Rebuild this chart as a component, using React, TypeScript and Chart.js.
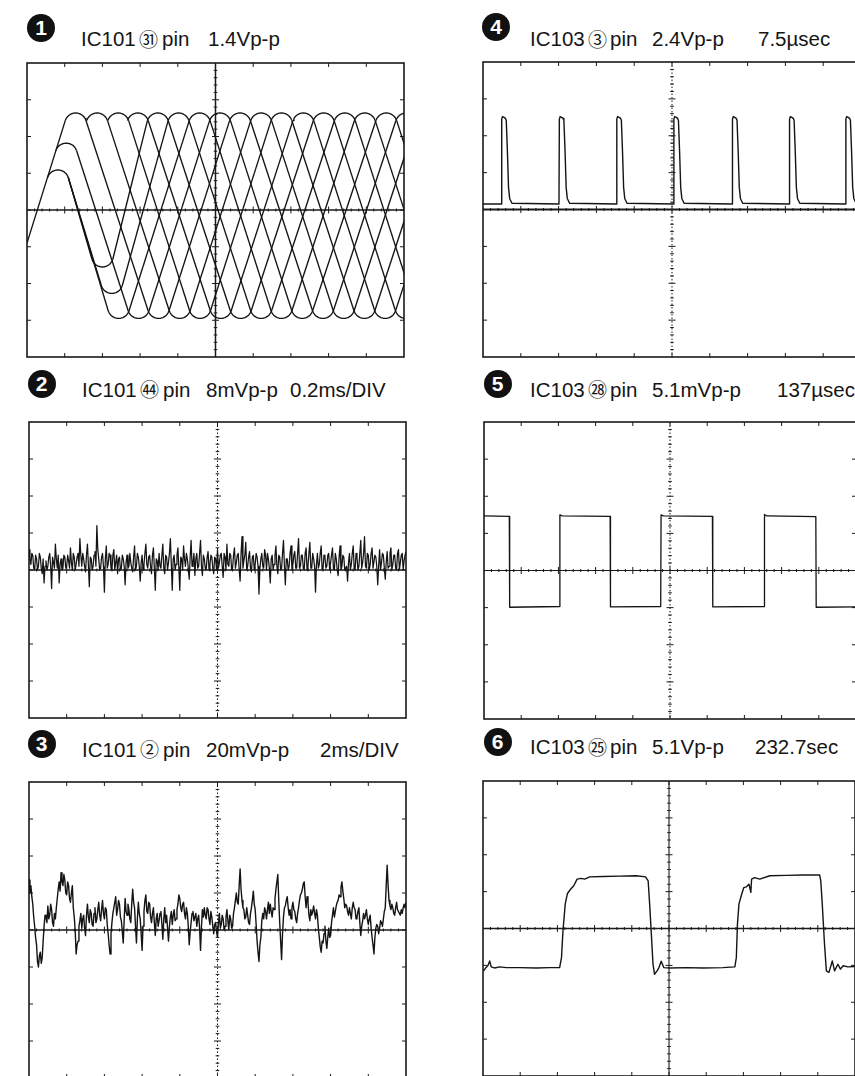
import { useEffect, useRef } from "react";
import { Chart, registerables } from "chart.js";
Chart.register(...registerables);

// ---------------- DATA ----------------
const badgeDigits = ["1", "2", "3", "4", "5", "6"];
const titleTokens = [
  ["IC101", "㉛", "pin", "1.4Vp-p"],
  ["IC101", "㊹", "pin", "8mVp-p", "0.2ms/DIV"],
  ["IC101", "②", "pin", "20mVp-p", "2ms/DIV"],
  ["IC103", "③", "pin", "2.4Vp-p", "7.5µsec"],
  ["IC103", "㉘", "pin", "5.1mVp-p", "137µsec"],
  ["IC103", "㉕", "pin", "5.1Vp-p", "232.7sec"],
];

// Panel 1 (eye pattern): turning points in DIV
const p1HumpX = [1.29, 1.86, 2.42, 2.94, 3.47, 4.02, 4.58, 5.12, 5.65, 6.21, 6.75, 7.33, 7.87, 8.43, 8.96, 9.53, 10.06, 10.6, 11.15, 11.7, 12.25];
const p1ValleyX = [2.43, 2.96, 3.49, 4.05, 4.59, 5.14, 5.67, 6.21, 6.75, 7.3, 7.85, 8.4, 8.95, 9.5, 10.05, 10.6, 11.15, 11.7];
const p1Top = 2.64;
const p1Bottom = -2.95;
const p1StartY = -0.9;
const p1SubPeakX = [0.82, 1.04];
const p1SubPeakY = [1.09, 1.82];
const p1SubValleyX = [2.0, 2.25];
const p1SubValleyY = [-1.55, -2.27];
const p1SubValleyRiseTo = [4, 5];

// Panel 2: noise
const p2Noise = [
  0.55, 0.15, 0.4, 0.0, 0.3, 0.1, 0.35, -0.1, -0.35, 0.25,
  0.1, 0.45, -0.5, 0.2, 0.7, 0.05, -0.35, 0.3, 0.05, 0.35,
  0.1, 0.25, 0.6, 0.0, 0.35, 0.15, 0.45, 0.85, 0.1, 0.3,
  -0.05, 0.7, -0.45, 0.3, 0.1, 0.5, 1.2, 0.3, 0.05, 0.45,
  -0.6, 0.65, 0.15, 0.4, 0.0, 0.55, 0.2, -0.1, 0.35, 0.05,
  0.3, -0.4, 0.4, 0.1, 0.2, -0.05, 0.65, 0.1, 0.35, -0.3,
  0.4, 0.15, 0.7, 0.05, 0.4, -0.1, 0.6, -0.55, 0.25, 0.45,
  0.05, 0.7, -0.1, 0.35, 0.2, 0.85, -0.55, 0.4, 0.15, 0.6,
  -0.55, 0.3, 0.65, 0.1, 0.3, -0.25, 0.8, 0.2, -0.15, 0.45,
  0.1, 0.8, -0.15, 0.3, 0.0, 0.5, 0.15, 0.35, -0.1, 0.3,
  0.55, 0.2, 0.45, -0.2, 0.35, 0.7, 0.1, 0.4, 0.05, 0.6,
  0.2, 0.45, -0.3, 0.9, 0.25, 0.75, 0.1, 0.5, -0.05, 0.4,
  0.15, 0.35, -0.65, 0.3, 0.1, 0.55, 0.0, 0.3, -0.35, 0.4,
  0.15, 0.65, -0.1, 0.35, 0.05, 0.8, -0.4, 0.3, 0.1, 0.65,
  0.15, 0.5, 0.05, 0.85, 0.1, 0.4, 0.0, 0.6, 0.1, 0.75,
  0.05, 0.3, -0.6, 0.45, 0.15, 0.65, 0.05, 0.35, 0.1, 0.45,
  0.2, 0.6, 0.0, 0.3, -0.15, 0.65, 0.1, 0.35, 0.05, -0.3,
  0.45, 0.15, 0.65, 0.0, 0.35, 0.1, 0.8, 0.2, 0.9, 0.05,
  0.4, 0.15, 0.6, 0.05, 0.35, -0.4, 0.55, 0.2, 0.4, -0.25,
  0.5, 0.1, 0.6, 0.15, 0.4, 0.0, 0.55, 0.2, 0.45, 0.25, 0.5,
];
const p2NoiseMid = [
  0.3, 0.45, 0.05, 0.4, 0.0, 0.45, 0.05, 0.3, 0.1, 0.0,
  0.35, 0.1, 0.35, 0.05, 0.3, 0.4, 0.15, 0.0, 0.4, 0.05,
  0.4, 0.05, 0.2, 0.45, 0.0, 0.35, 0.1, 0.4, 0.45, 0.1,
  0.4, 0.15, 0.35, 0.0, 0.4, 0.1, 0.55, 0.0, 0.35, 0.1,
  0.3, 0.05, 0.45, 0.05, 0.4, 0.0, 0.4, 0.3, 0.0, 0.4,
  0.1, 0.2, 0.05, 0.45, 0.05, 0.35, 0.0, 0.45, 0.1, 0.2,
  0.0, 0.45, 0.15, 0.35, 0.1, 0.4, 0.05, 0.3, 0.0, 0.1,
  0.4, 0.05, 0.4, 0.0, 0.45, 0.15, 0.3, 0.0, 0.4, 0.05,
  0.35, 0.0, 0.3, 0.45, 0.05, 0.35, 0.1, 0.45, 0.3, 0.05,
  0.45, 0.1, 0.4, 0.05, 0.35, 0.0, 0.4, 0.05, 0.35, 0.0,
  0.05, 0.4, 0.1, 0.45, 0.0, 0.15, 0.45, 0.0, 0.4, 0.05,
  0.4, 0.0, 0.45, 0.05, 0.4, 0.0, 0.35, 0.05, 0.35, 0.0,
  0.45, 0.1, 0.05, 0.45, 0.05, 0.4, 0.45, 0.05, 0.3, 0.0,
  0.4, 0.1, 0.4, 0.0, 0.45, 0.1, 0.3, 0.0, 0.45, 0.0,
  0.4, 0.05, 0.45, 0.05, 0.4, 0.05, 0.45, 0.0, 0.45, 0.05,
  0.45, 0.1, 0.15, 0.05, 0.45, 0.0, 0.4, 0.05, 0.4, 0.0,
  0.4, 0.05, 0.45, 0.0, 0.35, 0.0, 0.4, 0.0, 0.1, 0.2,
  0.0, 0.45, 0.05, 0.45, 0.0, 0.45, 0.05, 0.45, 0.1, 0.45,
  0.0, 0.45, 0.05, 0.4, 0.1, 0.1, 0.0, 0.45, 0.05, 0.2,
  0.05, 0.45, 0.0, 0.4, 0.05, 0.45, 0.0, 0.4, 0.0, 0.4,
];

// Panel 3: noise
const p3Noise = [
  1.35, 1.2, 0.7, 0.1, -0.4, -1.0, -0.6, -0.75, 0.1, 0.35,
  0.65, 0.4, 0.55, 0.1, 0.3, 0.85, 1.3, 1.55, 1.2, 1.35,
  0.95, 1.2, 0.75, 1.2, 0.35, -0.65, -0.3, 0.25, 0.05, 0.4,
  -0.15, 0.7, 0.2, 0.45, 0.1, 0.6, 0.3, 0.75, 0.25, 0.8,
  0.3, 0.55, -0.1, -0.65, 0.2, 0.6, 0.9, 0.55, 0.7, 0.25,
  -0.35, 0.85, 0.4, 0.55, 0.2, 1.1, 0.6, -0.35, 0.75, 0.3,
  -0.55, 0.5, 0.95, 0.45, 0.7, 0.2, 0.6, -0.15, 0.45, 0.25,
  0.5, -0.25, 0.6, 0.4, -0.3, 0.35, 0.15, 0.55, 0.3, 0.7,
  0.85, 0.5, 0.75, 0.3, 0.45, -0.4, 0.2, 0.5, 0.35, 0.1,
  0.4, -0.55, 0.55, 0.6, 0.3, 0.55, 0.15, 0.35, -0.1, 0.2,
  -0.2, 0.45, 0.15, 0.3, 0.1, 0.55, 0.0, 0.3, 0.1, 0.6,
  1.0, 0.7, 1.65, 0.8, 0.55, 0.35, 0.4, 0.15, 0.6, 1.05,
  0.55, -0.3, -0.85, -0.2, 0.45, 0.6, 0.3, 0.75, 0.7, 0.35,
  0.55, 1.1, 1.5, 0.2, -0.8, 0.35, 0.65, 0.9, 0.4, 0.3,
  0.75, 0.5, 0.2, 0.6, 0.95, 1.1, 1.3, 0.6, 0.75, 0.25,
  0.4, 0.65, 0.3, 0.4, -0.2, -0.6, -0.35, 0.1, -0.5, 0.05,
  -0.15, 0.4, 0.35, 0.65, 0.8, 0.9, 1.3, 0.85, 0.7, 0.5,
  0.6, 0.3, 0.75, 0.55, 0.35, 0.6, -0.15, 0.25, 0.3, 0.55,
  0.15, 0.4, -0.2, -0.65, 0.05, 0.1, 0.05, 0.2, 0.3, 0.6,
  1.75, 0.8, 0.55, 0.6, 0.4, 0.75, 0.5, 0.4, 0.45, 0.7, 0.75,
];
const p3NoiseMid = [
  1.0, 0.9, 0.35, -0.2, -0.85, -0.7, -0.9, -0.3, 0.4, 0.2,
  0.3, 0.7, 0.2, 0.45, 0.6, 1.1, 1.05, 1.3, 1.5, 1.0,
  1.3, 0.85, 1.0, 0.6, 0.0, -0.4, 0.1, 0.45, 0.3, 0.05,
  0.4, 0.35, 0.55, 0.15, 0.45, 0.2, 0.55, 0.4, 0.55, 0.45,
  0.6, 0.15, -0.4, -0.1, 0.45, 0.75, 0.4, 0.8, 0.35, -0.05,
  0.3, 0.5, 0.7, 0.3, 0.7, 0.75, 0.1, 0.3, 0.45, -0.1,
  0.1, 0.8, 0.5, 0.75, 0.35, 0.45, 0.2, 0.3, 0.1, 0.45,
  0.15, 0.3, 0.2, 0.05, 0.1, 0.5, 0.4, 0.25, 0.55, 0.95,
  0.6, 0.7, 0.45, 0.6, 0.1, -0.05, 0.45, 0.25, 0.45, 0.3,
  0.05, 0.1, 0.35, 0.4, 0.6, 0.3, 0.5, 0.1, 0.15, -0.05,
  0.2, 0.05, 0.4, 0.0, 0.35, 0.25, 0.4, 0.05, 0.45, 0.8,
  0.75, 1.2, 1.1, 0.6, 0.3, 0.6, 0.2, 0.45, 0.8, 0.7,
  0.15, -0.6, -0.4, 0.25, 0.3, 0.5, 0.55, 0.45, 0.5, 0.6,
  0.85, 1.3, 0.8, -0.3, -0.1, 0.6, 0.8, 0.6, 0.55, 0.6,
  0.55, 0.3, 0.45, 0.8, 1.0, 1.25, 0.9, 0.9, 0.4, 0.55,
  0.5, 0.45, 0.55, 0.05, -0.45, -0.3, -0.1, -0.3, -0.2, -0.2,
  0.2, 0.6, 0.5, 0.75, 0.95, 1.15, 1.05, 0.6, 0.65, 0.4,
  0.45, 0.6, 0.6, 0.3, 0.5, 0.2, 0.1, 0.45, 0.4, 0.3,
  0.3, 0.05, -0.4, -0.2, 0.15, -0.1, 0.25, 0.1, 0.5, 1.2,
  1.2, 0.65, 0.7, 0.45, 0.6, 0.55, 0.45, 0.55, 0.6, 0.6,
];
const noiseStep = 0.05;

// Panel 4: pulse train
const p4PulseStart = [0.485, 2.01, 3.53, 5.04, 6.59, 8.1, 9.59];
const p4ShapeDt = [0, 0.01, 0.03, 0.07, 0.11, 0.13, 0.16, 0.19, 0.22, 0.28];
const p4ShapeV = [0.15, 2.45, 2.52, 2.5, 2.47, 2.42, 1.6, 0.6, 0.3, 0.17];
const p4Base = 0.15;

// Panel 5: square wave
const p5T = [0, 0.68, 0.69, 2.03, 2.04, 2.1, 3.39, 3.4, 4.75, 4.76, 4.82, 6.14, 6.15, 7.53, 7.54, 7.6, 8.92, 8.93, 10];
const p5V = [1.47, 1.46, -0.99, -0.97, 1.5, 1.47, 1.46, -0.98, -0.97, 1.5, 1.47, 1.46, -0.98, -0.97, 1.51, 1.47, 1.45, -0.99, -0.98];

// Panel 6
const p6T = [0.02, 0.07, 0.13, 0.18, 0.22, 0.31, 0.45, 0.63, 0.99, 1.43, 1.79, 2.06, 2.11, 2.15, 2.21, 2.27, 2.36, 2.44, 2.53, 2.64, 2.73, 2.87, 3.23, 3.67, 4.12, 4.37, 4.44, 4.48, 4.53, 4.57, 4.61, 4.68, 4.73, 4.79, 4.86, 5.02, 5.47, 5.91, 6.45, 6.77, 6.81, 6.84, 6.88, 6.94, 7.01, 7.08, 7.15, 7.2, 7.22, 7.3, 7.44, 7.71, 8.15, 8.6, 9.05, 9.08, 9.12, 9.18, 9.23, 9.3, 9.39, 9.45, 9.54, 9.61, 9.68, 9.81, 9.99];
const p6V = [-1.15, -1.07, -1.01, -0.88, -1.04, -1.07, -1.04, -1.06, -1.06, -1.07, -1.06, -1.06, -0.79, -0.06, 0.66, 0.95, 1.07, 1.16, 1.34, 1.36, 1.34, 1.4, 1.41, 1.42, 1.43, 1.4, 1.29, 0.66, -0.24, -0.97, -1.24, -1.15, -1.06, -0.89, -1.06, -1.07, -1.06, -1.07, -1.06, -1.04, -0.79, 0.12, 0.66, 0.88, 1.11, 1.13, 1.2, 0.98, 1.34, 1.38, 1.34, 1.43, 1.44, 1.45, 1.45, 1.29, 0.66, -0.42, -1.15, -1.19, -0.88, -1.15, -0.97, -1.1, -1.01, -1.04, -1.03];

// ---------------- BUILDERS ----------------
type P = { x: number; y: number };

const ARC_RX = 0.29;
const ARC_RY = 0.3;
const ARC_DEG = [-71, -59, -47, -35, -23, -11, 0, 11, 23, 35, 47, 59, 71];
const rad = (d: number) => (d * Math.PI) / 180;

function arc(xc: number, yc: number, dir: number): P[] {
  return ARC_DEG.map((d) => ({
    x: xc + ARC_RX * Math.sin(rad(d)),
    y: yc - dir * ARC_RY * (1 - Math.cos(rad(d))),
  }));
}
function arcEnd(xc: number, yc: number, dir: number, side: number): P {
  const d = 71 * side;
  return { x: xc + ARC_RX * Math.sin(rad(d)), y: yc - dir * ARC_RY * (1 - Math.cos(rad(d))) };
}

function buildP1(): P[][] {
  const out: P[][] = [];
  const H = p1HumpX, V = p1ValleyX;
  H.forEach((x) => out.push(arc(x, p1Top, 1)));
  V.forEach((x) => out.push(arc(x, p1Bottom, -1)));
  out.push([{ x: 0, y: p1StartY }, arcEnd(H[0], p1Top, 1, -1)]);
  p1SubPeakX.forEach((x, i) => {
    out.push(arc(x, p1SubPeakY[i], 1));
    out.push([arcEnd(x, p1SubPeakY[i], 1, 1), arcEnd(V[i], p1Bottom, -1, -1)]);
  });
  p1SubValleyX.forEach((x, i) => {
    out.push(arc(x, p1SubValleyY[i], -1));
    out.push([arcEnd(p1SubPeakX[0], p1SubPeakY[0], 1, 1), arcEnd(x, p1SubValleyY[i], -1, -1)]);
    const h = H[p1SubValleyRiseTo[i]];
    out.push([arcEnd(x, p1SubValleyY[i], -1, 1), arcEnd(h, p1Top, 1, -1)]);
  });
  H.forEach((x, j) => {
    const v = V[j + 2];
    if (v !== undefined) out.push([arcEnd(x, p1Top, 1, 1), arcEnd(v, p1Bottom, -1, -1)]);
  });
  V.forEach((x, k) => {
    const h = H[k + 6];
    if (h !== undefined) out.push([arcEnd(x, p1Bottom, -1, 1), arcEnd(h, p1Top, 1, -1)]);
  });
  return out;
}

function noisePoints(vals: number[], mids: number[]): P[] {
  const pts: P[] = [];
  vals.forEach((v, i) => {
    pts.push({ x: i * noiseStep, y: v });
    if (mids[i] !== undefined) pts.push({ x: i * noiseStep + noiseStep / 2, y: mids[i] });
  });
  return pts;
}

function buildP4(): P[] {
  const pts: P[] = [{ x: 0, y: p4Base }];
  p4PulseStart.forEach((s) => {
    p4ShapeDt.forEach((d, i) => pts.push({ x: s + d, y: p4ShapeV[i] }));
  });
  pts.push({ x: 10, y: p4Base });
  return pts;
}

function pairs(t: number[], v: number[]): P[] {
  return t.map((x, i) => ({ x, y: v[i] }));
}

// ---------------- GRATICULE PLUGIN ----------------
const graticule = {
  id: "graticule",
  beforeDatasetsDraw(chart: any, _a: any, opts: any) {
    const { ctx, chartArea: a, scales } = chart;
    const sx = scales.x, sy = scales.y;
    const line = (x1: number, y1: number, x2: number, y2: number) => {
      ctx.beginPath(); ctx.moveTo(x1, y1); ctx.lineTo(x2, y2); ctx.stroke();
    };
    ctx.save();
    ctx.strokeStyle = "#1a1a1a";
    ctx.lineWidth = 1.6;
    ctx.strokeRect(a.left, a.top, a.right - a.left, a.bottom - a.top);
    ctx.lineWidth = 1;
    for (let i = 1; i < 10; i++) {
      const px = sx.getPixelForValue(i);
      line(px, a.top, px, a.top + 4);
      line(px, a.bottom, px, a.bottom - 4);
    }
    for (let j = -3; j <= 3; j++) {
      const py = sy.getPixelForValue(j);
      line(a.left, py, a.left + 4, py);
      line(a.right, py, a.right - 4, py);
    }
    const cx = sx.getPixelForValue(5);
    const cy = sy.getPixelForValue(0);
    ctx.lineWidth = opts.hWidth ?? 1.4;
    ctx.setLineDash(opts.hDash ?? []);
    line(a.left, cy, a.right, cy);
    ctx.lineWidth = opts.vWidth ?? 1.2;
    ctx.setLineDash(opts.vDash ?? []);
    line(cx, a.top, cx, a.bottom);
    ctx.setLineDash([]);
    ctx.lineWidth = 1;
    for (let k = 1; k < 50; k++) {
      const px = sx.getPixelForValue(k * 0.2);
      const len = k % 5 === 0 ? 3.5 : 1.5;
      line(px, cy - len, px, cy + len);
    }
    for (let k = -19; k < 20; k++) {
      const py = sy.getPixelForValue(k * 0.2);
      const len = k % 5 === 0 ? 3.5 : 1.8;
      line(cx - len, py, cx + len, py);
    }
    ctx.restore();
  },
};

// ---------------- COMPONENTS ----------------
type PanelProps = {
  left: number; top: number; w: number; h: number;
  traces: P[][]; lw: number; grat: any;
};

function Scope({ left, top, w, h, traces, lw, grat }: PanelProps) {
  const ref = useRef<HTMLCanvasElement | null>(null);
  const pad = 3;
  useEffect(() => {
    if (!ref.current) return;
    const chart = new Chart(ref.current, {
      type: "line",
      data: {
        datasets: traces.map((d) => ({
          data: d,
          borderColor: "#141414",
          borderWidth: lw,
          pointRadius: 0,
          tension: 0,
          fill: false,
          borderJoinStyle: "round" as const,
        })),
      },
      options: {
        animation: false,
        responsive: false,
        devicePixelRatio: 1,
        events: [],
        layout: { padding: pad },
        plugins: {
          legend: { display: false },
          tooltip: { enabled: false },
          // @ts-ignore
          graticule: grat,
        },
        scales: {
          x: { type: "linear", min: 0, max: 10, display: false },
          y: { type: "linear", min: -4, max: 4, display: false },
        },
      },
      plugins: [graticule],
    });
    return () => chart.destroy();
  }, []);
  return (
    <canvas
      ref={ref}
      width={w + 2 * pad}
      height={h + 2 * pad}
      style={{ position: "absolute", left: left - pad, top: top - pad, width: w + 2 * pad, height: h + 2 * pad }}
    />
  );
}

function Title({ cx, cy, xs, base, digit, tokens }: { cx: number; cy: number; xs: number[]; base: number; digit: string; tokens: string[] }) {
  return (
    <>
      <div
        style={{
          position: "absolute", left: cx - 14, top: cy - 14, width: 28, height: 28, borderRadius: "50%",
          background: "#111", color: "#fff", display: "flex", alignItems: "center", justifyContent: "center",
          font: "bold 21px 'Liberation Sans', Arial, sans-serif",
        }}
      >
        {digit}
      </div>
      {tokens.map((t, i) =>
        i === 1 ? (
          <div
            key={i}
            style={{
              position: "absolute", left: xs[i] - 1, top: base - 17.8, whiteSpace: "pre",
              fontFamily: "'Noto Sans CJK JP', sans-serif", fontSize: 19, lineHeight: "19px", color: "#151515",
            }}
          >
            {t}
          </div>
        ) : (
          <div
            key={i}
            style={{
              position: "absolute", left: xs[i], top: base - 17.3, whiteSpace: "pre",
              fontFamily: "'Liberation Sans', Arial, sans-serif", fontSize: 20.5, lineHeight: "20.5px", color: "#151515",
            }}
          >
            {t}
          </div>
        )
      )}
    </>
  );
}

export default function App() {
  const panels = [
    { left: 27, top: 63, w: 377, h: 294, traces: buildP1(), lw: 1.35, grat: { hWidth: 1.5, vWidth: 1.5 } },
    { left: 29, top: 422, w: 377, h: 296, traces: [noisePoints(p2Noise, p2NoiseMid)], lw: 1.25, grat: { hWidth: 1.6, vWidth: 1, vDash: [1.5, 2] } },
    { left: 29, top: 782, w: 377, h: 296, traces: [noisePoints(p3Noise, p3NoiseMid)], lw: 1.4, grat: { hWidth: 1.4, vWidth: 1, vDash: [1.5, 2] } },
    { left: 483, top: 62, w: 378, h: 295, traces: [buildP4()], lw: 1.4, grat: { hWidth: 1.8, vWidth: 1, vDash: [1.5, 2] } },
    { left: 484, top: 422, w: 372, h: 297, traces: [pairs(p5T, p5V)], lw: 1.3, grat: { hWidth: 1.1, vWidth: 1, vDash: [1.5, 2] } },
    { left: 483, top: 781, w: 372, h: 295, traces: [pairs(p6T, p6V)], lw: 1.4, grat: { hWidth: 1.3, vWidth: 1.1 } },
  ];
  const titlePos = [
    { cx: 41, cy: 28, base: 46.5, xs: [81, 140, 162, 208] },
    { cx: 41.5, cy: 384, base: 397, xs: [82, 141, 163, 206, 290] },
    { cx: 41.5, cy: 744, base: 757, xs: [82, 141, 163, 206, 320] },
    { cx: 496, cy: 27, base: 46.5, xs: [530, 589, 610, 652, 758] },
    { cx: 497.5, cy: 384, base: 397, xs: [530, 589, 610, 652, 777] },
    { cx: 497.5, cy: 742, base: 754.5, xs: [530, 589, 610, 652, 755] },
  ];
  return (
    <div style={{ position: "fixed", left: 0, top: 0, width: 855, height: 1076, overflow: "hidden", background: "#fff" }}>
      {titlePos.map((t, i) => (
        <Title key={"t" + i} {...t} digit={badgeDigits[i]} tokens={titleTokens[i]} />
      ))}
      {panels.map((p, i) => (
        <Scope key={"p" + i} {...p} />
      ))}
    </div>
  );
}
